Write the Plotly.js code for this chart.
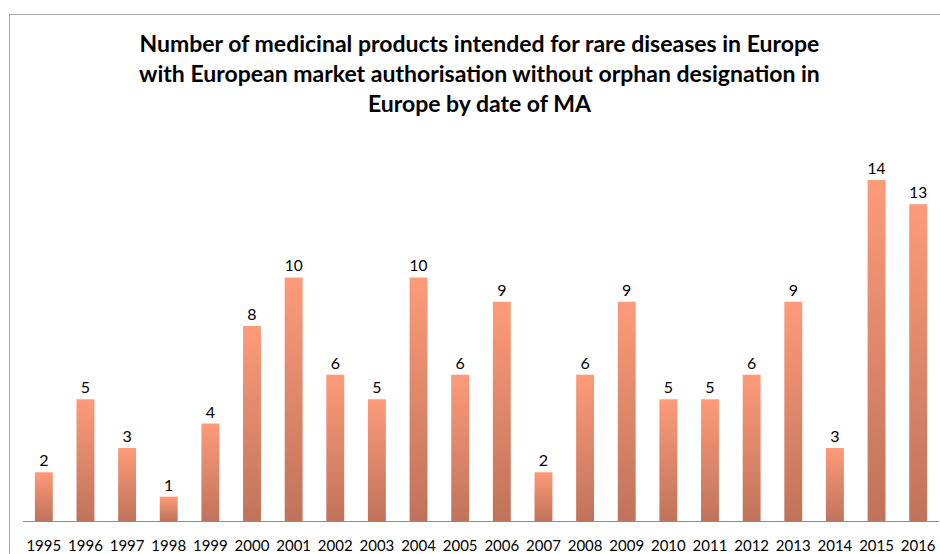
<!DOCTYPE html>
<html>
<head>
<meta charset="utf-8">
<script src="https://cdn.plot.ly/plotly-3.0.1.min.js"></script>
<style>
html,body{margin:0;padding:0;width:940px;height:554px;overflow:hidden;background:#fff;}
#frame{position:absolute;left:9px;top:14px;width:1000px;height:600px;border:1px solid #a6a6a6;box-sizing:border-box;}
#chart{position:absolute;left:0;top:0;width:940px;height:554px;}
</style>
</head>
<body>
<div id="frame"></div>
<div id="chart"></div>
<script>
const years = ["1995","1996","1997","1998","1999","2000","2001","2002","2003","2004","2005","2006","2007","2008","2009","2010","2011","2012","2013","2014","2015","2016"];
const counts = [2,5,3,1,4,8,10,6,5,10,6,9,2,6,9,5,5,6,9,3,14,13];
const titleText = "Number of medicinal products intended for rare diseases in Europe<br>with European market authorisation without orphan designation in<br>Europe by date of MA";

const trace = {
  type: "bar",
  x: years,
  y: counts,
  text: counts.map(String),
  textposition: "outside",
  cliponaxis: false,
  textfont: {family: "Lato, 'Open Sans', sans-serif", size: 16, color: "#000"},
  marker: {color: "#e48a6a", line: {width: 0}},
  hoverinfo: "skip"
};

const layout = {
  width: 940, height: 554,
  paper_bgcolor: "rgba(0,0,0,0)",
  plot_bgcolor: "rgba(0,0,0,0)",
  margin: {l: 23, r: 1, t: 140, b: 33},
  bargap: 0.57,
  showlegend: false,
  title: {
    text: titleText,
    font: {family: "Lato, 'Open Sans', sans-serif", size: 23, color: "#000", weight: "bold"},
    x: 0.51, xanchor: "center",
    yref: "container", y: 1 - 52/554, yanchor: "top"
  },
  xaxis: {
    type: "category",
    showline: true, linecolor: "#8c8c8c", linewidth: 1,
    ticks: "", showgrid: false, zeroline: false,
    tickfont: {family: "Lato, 'Open Sans', sans-serif", size: 15, color: "#000"},
    ticklabelstandoff: 11
  },
  yaxis: {
    range: [0, 15.64], visible: false, showgrid: false, zeroline: false
  }
};

Plotly.newPlot("chart", [trace], layout, {displayModeBar: false, staticPlot: true}).then(function(gd){
  const svg = gd.querySelector("svg.main-svg");
  const ns = "http://www.w3.org/2000/svg";
  let defs = svg.querySelector("defs");
  if (!defs) { defs = document.createElementNS(ns, "defs"); svg.insertBefore(defs, svg.firstChild); }
  const lg = document.createElementNS(ns, "linearGradient");
  lg.setAttribute("id", "barGrad");
  lg.setAttribute("x1", "0"); lg.setAttribute("y1", "0");
  lg.setAttribute("x2", "0"); lg.setAttribute("y2", "1");
  [["0", "#fd9b79"], ["1", "#c0735a"]].forEach(function(s){
    const st = document.createElementNS(ns, "stop");
    st.setAttribute("offset", s[0]);
    st.setAttribute("stop-color", s[1]);
    lg.appendChild(st);
  });
  defs.appendChild(lg);
  gd.querySelectorAll(".bars .point path").forEach(function(p){
    p.style.fill = "url(#barGrad)";
  });
});
</script>
</body>
</html>
